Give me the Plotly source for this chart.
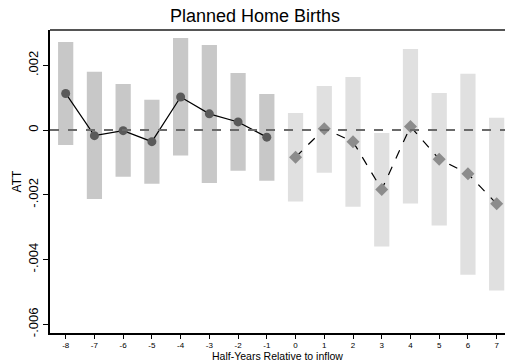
import plotly.graph_objects as go

pre_x = [-8, -7, -6, -5, -4, -3, -2, -1]
pre_att = [0.00113, -0.000175, -0.00002, -0.00036, 0.00102, 0.00050, 0.00025, -0.00022]
pre_hi = [0.002716, 0.00180, 0.00142, 0.000935, 0.00284, 0.00263, 0.00176, 0.00111]
pre_lo = [-0.000463, -0.00213, -0.00144, -0.00166, -0.00079, -0.00164, -0.00126, -0.00157]

post_x = [0, 1, 2, 3, 4, 5, 6, 7]
post_att = [-0.00084, 0.00004, -0.00036, -0.00184, 0.00011, -0.00090, -0.00135, -0.00228]
post_hi = [0.000525, 0.00136, 0.00164, -0.00009, 0.00250, 0.00114, 0.00174, 0.00038]
post_lo = [-0.00221, -0.00132, -0.00237, -0.00360, -0.00227, -0.00295, -0.00447, -0.00496]

x_ticks = list(range(-8, 8))
y_ticks = [0.002, 0, -0.002, -0.004, -0.006]
y_labels = [".002", "0", "-.002", "-.004", "-.006"]

fig = go.Figure()
fig.add_trace(go.Bar(x=pre_x, base=pre_lo, y=[h - l for h, l in zip(pre_hi, pre_lo)],
                     width=0.53, marker=dict(color="#c8c8c8", line=dict(width=0)),
                     showlegend=False, hoverinfo="skip"))
fig.add_trace(go.Bar(x=post_x, base=post_lo, y=[h - l for h, l in zip(post_hi, post_lo)],
                     width=0.53, marker=dict(color="#e0e0e0", line=dict(width=0)),
                     showlegend=False, hoverinfo="skip"))
fig.add_shape(type="line", xref="paper", x0=0, x1=1, yref="y", y0=0, y1=0,
              line=dict(color="#6a6a6a", width=2, dash="dash"), layer="above")
fig.add_shape(type="line", xref="paper", x0=0, x1=1, yref="paper", y0=1, y1=1,
              line=dict(color="#555555", width=2), layer="above")
fig.add_trace(go.Scatter(x=pre_x, y=pre_att, mode="lines+markers",
                         line=dict(color="black", width=1.2),
                         marker=dict(symbol="circle", size=9, color="#5a5a5a"),
                         showlegend=False))
fig.add_trace(go.Scatter(x=post_x, y=post_att, mode="lines+markers",
                         line=dict(color="black", width=1.2, dash="dash"),
                         marker=dict(symbol="diamond", size=10, color="#8c8c8c"),
                         showlegend=False))

fig.update_layout(
    width=505, height=364,
    margin=dict(l=50, r=0, t=30, b=31),
    paper_bgcolor="white", plot_bgcolor="white",
    font=dict(family="Liberation Sans, Arial, sans-serif", color="black"),
    title=dict(text="Planned Home Births", x=0.505, xanchor="center", y=0.956, yanchor="middle",
               font=dict(size=18, color="black")),
    barmode="overlay",
)
fig.update_xaxes(range=[-8.546, 7.29], tickmode="array", tickvals=x_ticks,
                 ticktext=[str(v) for v in x_ticks], tickfont=dict(size=8),
                 ticks="outside", ticklen=4, tickcolor="black",
                 showline=True, linecolor="black", linewidth=1.5,
                 showgrid=False, zeroline=False,
                 title=dict(text="Half-Years Relative to inflow", font=dict(size=10.5), standoff=0))
fig.update_yaxes(range=[-0.00627, 0.00309], tickmode="array", tickvals=y_ticks,
                 ticktext=y_labels, tickangle=-90, tickfont=dict(size=13),
                 ticks="outside", ticklen=5, tickcolor="black",
                 showline=True, linecolor="black", linewidth=1.5,
                 showgrid=False, zeroline=False,
                 title=dict(text="ATT", font=dict(size=12), standoff=2))

fig.write_html("out.html")
